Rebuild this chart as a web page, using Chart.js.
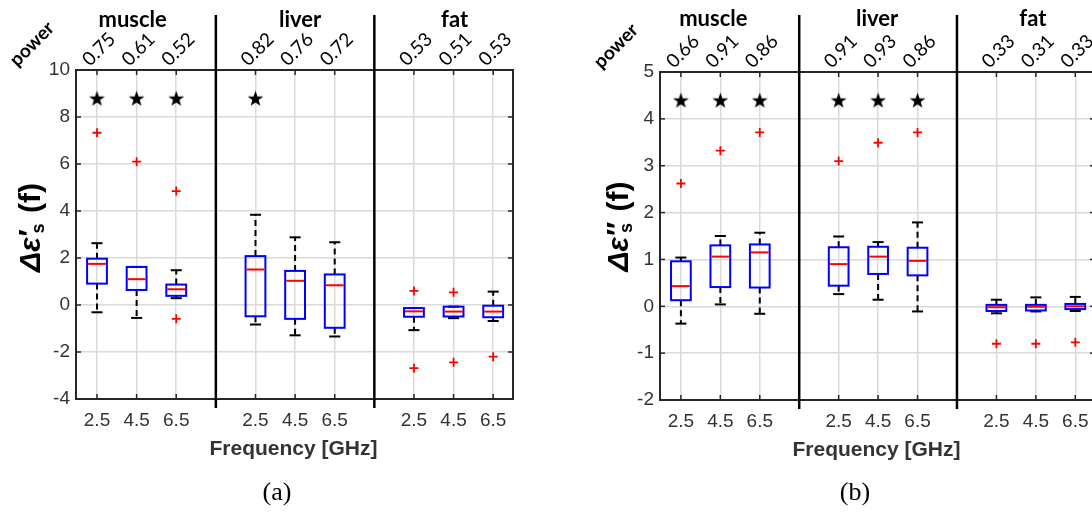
<!DOCTYPE html>
<html>
<head>
<meta charset="utf-8">
<script src="https://cdn.jsdelivr.net/npm/chart.js@4.4.1/dist/chart.umd.min.js"></script>
<style>
  html, body { margin: 0; padding: 0; background: #fff; overflow: hidden; width: 1092px; height: 512px; }
  canvas { position: absolute; top: 0; }
  #panelA { left: 0; }
  #panelB { left: 546px; }
</style>
</head>
<body>
<canvas id="panelA" width="546" height="512"></canvas>
<canvas id="panelB" width="560" height="512"></canvas>
<script>
// ---- shared categories ----
const tissues = ['muscle', 'liver', 'fat'];
const freqLabels = ['2.5', '4.5', '6.5'];
const slotPositions = [1, 2, 3, 5, 6, 7, 9, 10, 11];
const separatorPositions = [4, 8];

// ---- panel (a): real-part change ----
const powerA = ['0.75', '0.61', '0.52', '0.82', '0.76', '0.72', '0.53', '0.51', '0.53'];
const lowA  = [-0.31, -0.55, 0.29, -0.83, -1.29, -1.34, -1.07, -0.56, -0.68];
const q1A   = [ 0.91,  0.64, 0.39, -0.48, -0.59, -0.97, -0.50, -0.49, -0.52];
const medA  = [ 1.75,  1.10, 0.67,  1.51,  1.03,  0.84, -0.27, -0.28, -0.28];
const q3A   = [ 1.97,  1.62, 0.87,  2.08,  1.45,  1.30, -0.13, -0.07, -0.03];
const highA = [ 2.63,  1.62, 1.48,  3.84,  2.88,  2.67, -0.13, -0.07,  0.57];
const outlierSlotA  = [0, 1, 2, 2, 6, 6, 7, 7, 8];
const outlierValueA = [7.33, 6.10, 4.85, -0.59, 0.60, -2.69, 0.54, -2.44, -2.20];
const starSlotA = [0, 1, 2, 3];
const starLevelA = 8.8;
const yRangeA = [-4, 10, 2];

// ---- panel (b): imaginary-part change ----
const powerB = ['0.66', '0.91', '0.86', '0.91', '0.93', '0.86', '0.33', '0.31', '0.33'];
const lowB  = [-0.37, 0.04, -0.16, 0.26, 0.14, -0.11, -0.15, -0.11, -0.10];
const q1B   = [ 0.13, 0.41,  0.40, 0.44, 0.69,  0.66, -0.10, -0.09, -0.06];
const medB  = [ 0.43, 1.06,  1.15, 0.90, 1.06,  0.97, -0.02, -0.01,  0.00];
const q3B   = [ 0.96, 1.30,  1.32, 1.26, 1.27,  1.25,  0.03,  0.03,  0.05];
const highB = [ 1.04, 1.50,  1.57, 1.49, 1.37,  1.79,  0.14,  0.19,  0.20];
const outlierSlotB  = [0, 1, 2, 3, 4, 5, 6, 7, 8];
const outlierValueB = [2.62, 3.32, 3.71, 3.10, 3.49, 3.71, -0.80, -0.80, -0.77];
const starSlotB = [0, 1, 2, 3, 4, 5];
const starLevelB = 4.4;
const yRangeB = [-2, 5, 1];

const AXIS_COLOR = '#333333';
const GRID_COLOR = '#dadada';
const SANS = '"Liberation Sans", Arial, sans-serif';
const LABEL_FONT = 'Lato, "Open Sans", sans-serif';

// filled five-point star used as a point style
function makeStar(R) {
  const c = document.createElement('canvas');
  const s = Math.ceil(R * 2 + 2);
  c.width = s; c.height = s;
  const g = c.getContext('2d');
  const cx = s / 2, cy = s / 2 + R * 0.1, r = R * 0.4;
  g.beginPath();
  for (let k = 0; k < 10; k++) {
    const a = -Math.PI / 2 + k * Math.PI / 5;
    const rr = k % 2 === 0 ? R : r;
    g.lineTo(cx + rr * Math.cos(a), cy + rr * Math.sin(a));
  }
  g.closePath();
  g.fillStyle = '#000';
  g.fill();
  return c;
}
const starImage = makeStar(8.3);

function line(ctx, x1, y1, x2, y2) {
  ctx.beginPath(); ctx.moveTo(x1, y1); ctx.lineTo(x2, y2); ctx.stroke();
}

function drawYTitle(ctx, baseX, centerY, primes) {
  const main = 'bold 30px ' + SANS;
  const mainIt = 'italic bold 30px ' + SANS;
  const sub = 'bold 18px ' + SANS;
  ctx.save();
  ctx.fillStyle = '#000';
  ctx.textBaseline = 'alphabetic';
  ctx.textAlign = 'left';
  ctx.font = mainIt; const w1 = ctx.measureText('Δε').width;
  ctx.font = main;   const w2 = ctx.measureText(primes).width;
  ctx.font = sub;    const w3 = ctx.measureText('s').width;
  ctx.font = main;   const w4 = ctx.measureText(' (f)').width;
  const wMid = Math.max(w2, w3 + 3) + 2;
  const total = w1 + wMid + w4;
  ctx.translate(baseX, centerY);
  ctx.rotate(-Math.PI / 2);
  let x = -total / 2;
  ctx.font = mainIt; ctx.fillText('Δε', x, 0); x += w1 + 1;
  ctx.font = main;   ctx.fillText(primes, x, -1);
  ctx.font = sub;    ctx.fillText('s', x + 3, 4);
  x += wMid;
  ctx.font = main;   ctx.fillText(' (f)', x, 0);
  ctx.restore();
}

function makePanel(canvasId, spec) {
  const outlierData = spec.outlierSlot.map((s, k) => ({ x: slotPositions[s], y: spec.outlierValue[k] }));
  const starData = spec.starSlot.map(s => ({ x: slotPositions[s], y: spec.starLevel }));

  const decorations = {
    id: 'boxDecor' + canvasId,
    beforeDatasetsDraw(chart) {
      const { ctx } = chart;
      const xs = chart.scales.x, ys = chart.scales.y;
      const unit = xs.getPixelForValue(2) - xs.getPixelForValue(1);
      const halfBox = unit * 0.25, halfCap = unit * 0.14;
      ctx.save();
      slotPositions.forEach((p, i) => {
        const cx = xs.getPixelForValue(p);
        const yLo = ys.getPixelForValue(spec.low[i]);
        const yQ1 = ys.getPixelForValue(spec.q1[i]);
        const yMed = ys.getPixelForValue(spec.med[i]);
        const yQ3 = ys.getPixelForValue(spec.q3[i]);
        const yHi = ys.getPixelForValue(spec.high[i]);
        ctx.strokeStyle = '#000';
        ctx.lineWidth = 2;
        ctx.setLineDash([6, 4]);
        if (yHi < yQ3) line(ctx, cx, yQ3, cx, yHi);
        if (yLo > yQ1) line(ctx, cx, yQ1, cx, yLo);
        ctx.setLineDash([]);
        line(ctx, cx - halfCap, yHi, cx + halfCap, yHi);
        line(ctx, cx - halfCap, yLo, cx + halfCap, yLo);
        ctx.strokeStyle = '#0000ff';
        ctx.strokeRect(cx - halfBox, yQ3, halfBox * 2, yQ1 - yQ3);
        ctx.strokeStyle = '#ff0000';
        line(ctx, cx - halfBox + 1, yMed, cx + halfBox - 1, yMed);
      });
      ctx.restore();
    },
    afterDatasetsDraw(chart) {
      const { ctx, chartArea: a } = chart;
      const xs = chart.scales.x, ys = chart.scales.y;
      ctx.save();
      // inward tick marks
      ctx.strokeStyle = '#262626';
      ctx.lineWidth = 1.5;
      ys.ticks.forEach(t => {
        const y = ys.getPixelForValue(t.value);
        line(ctx, a.left, y, a.left + 5, y);
        line(ctx, a.right, y, a.right - 5, y);
      });
      slotPositions.forEach(p => {
        const x = xs.getPixelForValue(p);
        line(ctx, x, a.top, x, a.top + 5);
        line(ctx, x, a.bottom, x, a.bottom - 5);
      });
      // axes frame
      ctx.lineWidth = 2;
      ctx.strokeRect(a.left, a.top, a.right - a.left, a.bottom - a.top);
      // tissue separators
      ctx.strokeStyle = '#000';
      ctx.lineWidth = 2.5;
      separatorPositions.forEach(p => {
        const x = xs.getPixelForValue(p);
        line(ctx, x, 15, x, a.bottom + 9);
      });
      ctx.restore();
    },
    afterDraw(chart) {
      const { ctx, chartArea: a } = chart;
      const xs = chart.scales.x;
      ctx.save();
      ctx.fillStyle = '#000';
      // tissue names
      ctx.font = 'bold 22px ' + LABEL_FONT;
      ctx.textAlign = 'center';
      ctx.textBaseline = 'middle';
      tissues.forEach((t, g) => {
        ctx.fillText(t, xs.getPixelForValue(slotPositions[g * 3 + 1]) + spec.tissueShift[g], a.top - spec.tissueRise);
      });
      // power values, slanted
      ctx.font = '19px ' + LABEL_FONT;
      ctx.textAlign = 'left';
      ctx.textBaseline = 'alphabetic';
      spec.power.forEach((v, i) => {
        const x = xs.getPixelForValue(slotPositions[i]);
        ctx.save();
        ctx.translate(x - 7, a.top - 3);
        ctx.rotate(-Math.PI / 4);
        ctx.fillText(v, 0, 0);
        ctx.restore();
      });
      // "power" row label
      ctx.save();
      ctx.font = 'bold 19px ' + LABEL_FONT;
      ctx.textAlign = 'center';
      ctx.textBaseline = 'middle';
      ctx.translate(a.left - 44, a.top - 26);
      ctx.rotate(-Math.PI / 4);
      ctx.fillText('power', 0, 0);
      ctx.restore();
      // y title
      drawYTitle(ctx, spec.yTitleX, spec.yTitleY, spec.primes);
      // x title
      ctx.fillStyle = AXIS_COLOR;
      ctx.font = 'bold 21px ' + SANS;
      ctx.textAlign = 'center';
      ctx.textBaseline = 'middle';
      ctx.fillText('Frequency [GHz]', (a.left + a.right) / 2 + spec.xTitleShift, a.bottom + 50);
      // panel caption
      ctx.fillStyle = '#000';
      ctx.font = '26px "Liberation Serif", "Times New Roman", serif';
      ctx.fillText(spec.caption, spec.captionX, 493);
      ctx.restore();
    }
  };

  return new Chart(document.getElementById(canvasId), {
    type: 'scatter',
    data: {
      datasets: [
        { data: outlierData, pointStyle: 'cross', radius: 4.5, borderWidth: 1.8,
          borderColor: '#ff0000', backgroundColor: '#ff0000' },
        { data: starData, pointStyle: starImage, radius: 8 }
      ]
    },
    options: {
      responsive: false,
      animation: false,
      devicePixelRatio: 1,
      events: [],
      layout: { padding: { left: 0, top: spec.top, right: spec.padRight, bottom: 0 } },
      plugins: { legend: { display: false }, tooltip: { enabled: false } },
      scales: {
        x: {
          type: 'linear', min: 0.47, max: 11.5,
          afterBuildTicks: s => { s.ticks = slotPositions.map(v => ({ value: v })); },
          afterFit: s => { s.height = spec.xAxisHeight; },
          ticks: { autoSkip: false, maxRotation: 0, minRotation: 0, padding: 10,
                   color: AXIS_COLOR, font: { family: SANS, size: 19 },
                   callback: (v, i) => freqLabels[i % 3] },
          grid: { color: GRID_COLOR, lineWidth: 1.5, drawTicks: false },
          border: { display: false }
        },
        y: {
          min: spec.yRange[0], max: spec.yRange[1],
          afterFit: s => { s.width = spec.yAxisWidth; },
          ticks: { stepSize: spec.yRange[2], padding: 6, color: AXIS_COLOR,
                   font: { family: SANS, size: 19 } },
          grid: { color: GRID_COLOR, lineWidth: 1.5, drawTicks: false },
          border: { display: false }
        }
      }
    },
    plugins: [decorations]
  });
}

makePanel('panelA', {
  power: powerA, low: lowA, q1: q1A, med: medA, q3: q3A, high: highA,
  outlierSlot: outlierSlotA, outlierValue: outlierValueA,
  starSlot: starSlotA, starLevel: starLevelA, yRange: yRangeA,
  top: 70, padRight: 33, yAxisWidth: 76, xAxisHeight: 113,
  tissueShift: [-4, 5, 1], tissueRise: 50,
  primes: '′', yTitleX: 40, yTitleY: 228,
  xTitleShift: -1, caption: '(a)', captionX: 277
});

makePanel('panelB', {
  power: powerB, low: lowB, q1: q1B, med: medB, q3: q3B, high: highB,
  outlierSlot: outlierSlotB, outlierValue: outlierValueB,
  starSlot: starSlotB, starLevel: starLevelB, yRange: yRangeB,
  top: 72, padRight: 11, yAxisWidth: 114, xAxisHeight: 112,
  tissueShift: [-7, -1, -3], tissueRise: 53,
  primes: '′′', yTitleX: 628 - 546, yTitleY: 227,
  xTitleShift: -1, caption: '(b)', captionX: 855 - 546
});
</script>
</body>
</html>
